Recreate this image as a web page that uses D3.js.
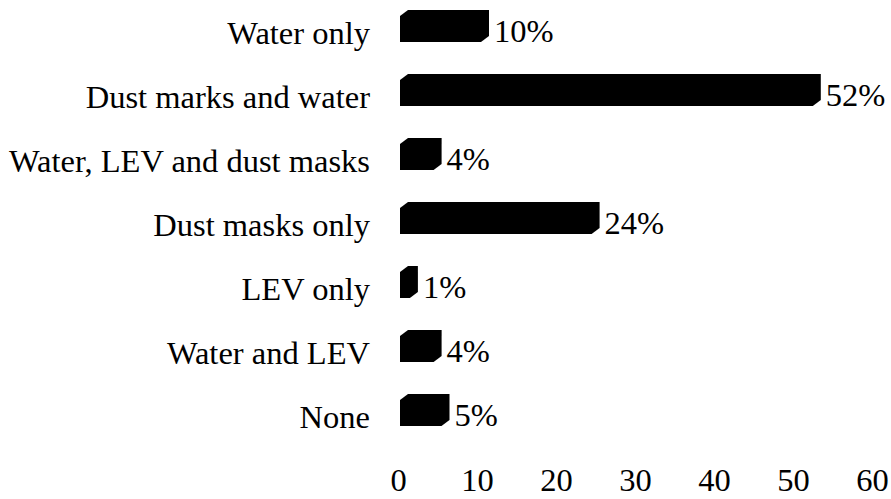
<!DOCTYPE html>
<html><head><meta charset="utf-8">
<script src="https://cdn.jsdelivr.net/npm/d3@7"></script>
<style>body{margin:0;background:#fff}svg{display:block}</style>
</head><body>
<script>
const categories = ["Water only","Dust marks and water","Water, LEV and dust masks","Dust masks only","LEV only","Water and LEV","None"];
const values = [10,52,4,24,1,4,5];
const valueLabels = ["10%","52%","4%","24%","1%","4%","5%"];
const tickValues = [0,10,20,30,40,50,60];

const W = 891, H = 499;
const svg = d3.select("body").append("svg").attr("width",W).attr("height",H);
const font = "'Liberation Serif','Times New Roman',serif";
const fs = 32.5;

const x = d3.scaleLinear().domain([0,60]).range([398,872]);
const y = d3.scalePoint().domain(categories).range([26,410]);
const barH = 32, dx = 8, dy = 6, extra = 4;

function hex(v, c){
  const x0 = x(0) + 2, x1 = x(v) + extra, t = c - barH/2, b = c + barH/2;
  return `M${x0},${t+dy}L${x0+dx},${t}L${x1+dx},${t}L${x1+dx},${b-dy}L${x1},${b}L${x0},${b}Z`;
}

const data = categories.map((c,i)=>({c, v: values[i], l: valueLabels[i]}));

svg.selectAll("path.bar").data(data).enter().append("path")
  .attr("class","bar").attr("d", d=>hex(d.v, y(d.c))).attr("fill","#000");

svg.selectAll("text.cat").data(data).enter().append("text")
  .attr("x",370).attr("y",d=>y(d.c)+18).attr("text-anchor","end")
  .attr("font-family",font).attr("font-size",fs).attr("fill","#000").text(d=>d.c);

svg.selectAll("text.val").data(data).enter().append("text")
  .attr("x",d=>x(d.v)+extra+dx+5).attr("y",d=>y(d.c)+16)
  .attr("font-family",font).attr("font-size",fs).attr("fill","#000").text(d=>d.l);

const axis = d3.axisBottom(x).tickValues(tickValues).tickSize(0).tickPadding(0).tickFormat(d3.format("d"));
const g = svg.append("g").attr("transform","translate(0,491)").call(axis);
g.select(".domain").remove();
g.selectAll("text").attr("font-family",font).attr("font-size",fs).attr("fill","#000").attr("dy","0");
</script>
</body></html>
